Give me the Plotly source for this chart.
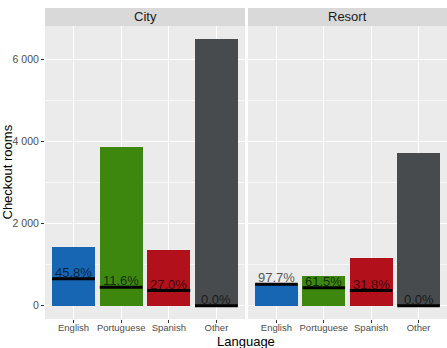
import plotly.graph_objects as go

hotels = ["City", "Resort"]
languages = ["English", "Portuguese", "Spanish", "Other"]
city_rooms = [1430, 3870, 1360, 6490]
city_cancel_pct = [45.8, 11.6, 27.0, 0.0]
resort_rooms = [535, 715, 1160, 3710]
resort_cancel_pct = [97.7, 61.5, 31.8, 0.0]
y_ticks = [0, 2000, 4000, 6000]

colors = ["#1666b3", "#3d870f", "#b2111c", "#474b4d"]

W, H = 447, 348
def px(x): return x / W
def py(y): return 1 - y / H

panels = [(45, 245), (248, 447)]
ptop, pbot = 26, 319
strip_top = 8
FONT = "Liberation Sans, Arial"

data = [(city_rooms, city_cancel_pct), (resort_rooms, resort_cancel_pct)]
ymax = max(max(city_rooms), max(resort_rooms))
yr = [-0.05 * ymax, 1.05 * ymax]

fig = go.Figure()
annotations = []
shapes = []
xs = list(range(len(languages)))
for k, (rooms, pct) in enumerate(data):
    xa = "x" if k == 0 else "x2"
    ya = "y" if k == 0 else "y2"
    fig.add_trace(go.Bar(x=xs, y=rooms, width=0.9, marker=dict(color=colors, line=dict(width=0)),
                         xaxis=xa, yaxis=ya, showlegend=False))
    for i, (r, p) in enumerate(zip(rooms, pct)):
        v = r * p / 100
        fig.add_trace(go.Scatter(x=[i - 0.45, i + 0.45], y=[v, v], mode="lines",
                                 line=dict(color="black", width=3), xaxis=xa, yaxis=ya,
                                 showlegend=False, hoverinfo="skip"))
        annotations.append(dict(x=i, y=v, xref=xa, yref=ya, text=f"{p:.1f}%", showarrow=False,
                                yanchor="bottom", yshift=-3,
                                font=dict(family=FONT, size=13, color="rgba(0,0,0,0.68)")))
    x0, x1 = panels[k]
    shapes.append(dict(type="rect", xref="paper", yref="paper", x0=px(x0), x1=px(x1),
                       y0=py(ptop), y1=py(strip_top), fillcolor="#d9d9d9", line=dict(width=0), layer="below"))
    annotations.append(dict(x=px((x0 + x1) / 2), y=py((strip_top + ptop) / 2), xref="paper", yref="paper",
                            text=hotels[k], showarrow=False, xanchor="center", yanchor="middle",
                            font=dict(family=FONT, size=13, color="#1a1a1a")))

annotations.append(dict(x=px(246), y=py(341), xref="paper", yref="paper", text="Language", showarrow=False,
                        xanchor="center", yanchor="middle",
                        font=dict(family=FONT, size=13, color="black")))
annotations.append(dict(x=px(7), y=py((ptop + pbot) / 2), xref="paper", yref="paper", text="Checkout rooms",
                        showarrow=False, textangle=-90, xanchor="center", yanchor="middle",
                        font=dict(family=FONT, size=13, color="black")))

xaxis_common = dict(range=[-0.6, 3.6], tickmode="array", tickvals=xs, ticktext=languages,
                    showgrid=True, gridcolor="white", gridwidth=1.1, zeroline=False,
                    ticks="outside", ticklen=3, tickcolor="#333333", tickwidth=1,
                    ticklabelstandoff=-3,
                    tickfont=dict(family=FONT, size=9.5, color="#4d4d4d"),
                    showline=False, fixedrange=True)
yaxis_common = dict(range=yr, tickmode="array", tickvals=y_ticks, tickformat=",.0f",
                    showgrid=True, gridcolor="white", gridwidth=1.1, zeroline=False,
                    minor=dict(tickmode="array", tickvals=[1000, 3000, 5000], showgrid=True,
                               gridcolor="rgba(255,255,255,0.6)", gridwidth=0.5, ticks=""),
                    ticks="outside", ticklen=3, tickcolor="#333333", tickwidth=1,
                    tickfont=dict(family=FONT, size=10.5, color="#4d4d4d"),
                    showline=False, fixedrange=True, domain=[py(pbot), py(ptop)])

fig.update_layout(
    width=W, height=H, margin=dict(l=0, r=0, t=0, b=0),
    paper_bgcolor="white", plot_bgcolor="#ebebeb",
    separators=". ",
    xaxis=dict(**xaxis_common, domain=[px(panels[0][0]), px(panels[0][1])], anchor="y"),
    xaxis2=dict(**xaxis_common, domain=[px(panels[1][0]), px(panels[1][1])], anchor="y2"),
    yaxis=dict(**yaxis_common, anchor="x"),
    yaxis2=dict(**yaxis_common, anchor="x2", showticklabels=False, matches="y"),
    annotations=annotations, shapes=shapes, bargap=0,
)
fig.update_yaxes(ticks="", selector=dict(anchor="x2"))
fig.write_html("out.html")
